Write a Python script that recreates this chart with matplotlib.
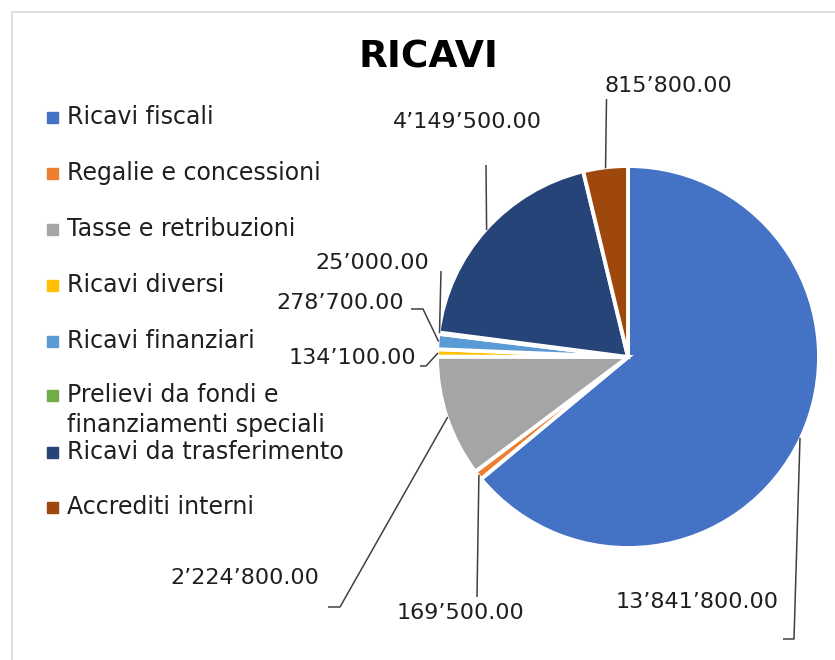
import numpy as np
import matplotlib.pyplot as plt
from matplotlib.patches import Rectangle

# data
categories = ['Ricavi fiscali', 'Regalie e concessioni', 'Tasse e retribuzioni',
              'Ricavi diversi', 'Ricavi finanziari',
              'Prelievi da fondi e\nfinanziamenti speciali',
              'Ricavi da trasferimento', 'Accrediti interni']
values = [13841800, 169500, 2224800, 134100, 278700, 25000, 4149500, 815800]
value_labels = ['13’841’800.00', '169’500.00', '2’224’800.00', '134’100.00',
                '278’700.00', '25’000.00', '4’149’500.00', '815’800.00']
colors = ['#4472C4', '#ED7D31', '#A5A5A5', '#FFC000',
          '#5B9BD5', '#70AD47', '#264478', '#9E480E']

W, H = 835, 660
TXT = '#1f1f1f'
plt.rcParams['font.family'] = ['DejaVu Sans']

fig = plt.figure(figsize=(W / 100, H / 100), dpi=100)
ax = fig.add_axes([0, 0, 1, 1])


def py(y):
    # pixel row (from top) -> data y
    return H - y


# chart border
ax.add_patch(Rectangle((12, py(700)), 900, 688, fill=False,
                       edgecolor='#D9D9D9', lw=1.2))

cx, cy, r = 628, 357, 191
wedges, _ = ax.pie(values, colors=colors, startangle=90, counterclock=False,
                   center=(cx, py(cy)), radius=r, frame=True,
                   wedgeprops=dict(edgecolor='white', linewidth=2.8))
ax.set_xlim(0, W)
ax.set_ylim(0, H)
ax.set_aspect('equal')
ax.axis('off')

ax.text(428, py(57), 'RICAVI', ha='center', va='center', fontsize=27,
        fontweight='bold', color='black')

# legend
leg_y = [117, 173, 229, 285, 341, 395, 452, 507]
for lab, col, y in zip(categories, colors, leg_y):
    ax.add_patch(Rectangle((47, py(y) - 5.5), 11, 11, color=col))
    lines = lab.split('\n')
    for k, line in enumerate(lines):
        ax.text(67, py(y + 30 * k), line, ha='left', va='center',
                fontsize=17, color=TXT)

# data labels: text centre and leader path (pixel coords, path ends on wedge)
label_pos = [(697, 602), (460, 613), (245, 578), (352, 358),
             (340, 303), (372, 263), (467, 122), (668, 86)]
leader_paths = [
    [(783, 639), (794, 639)],
    [(477, 597)],
    [(328, 607), (340, 607)],
    [(420, 366), (426, 366)],
    [(411, 309), (423, 309)],
    [(441, 271)],
    [(486, 165)],
    [(606.5, 99)],
]
for w, lab, pos, path in zip(wedges, value_labels, label_pos, leader_paths):
    ang = np.deg2rad((w.theta1 + w.theta2) / 2)
    ex = cx + (r - 1) * np.cos(ang)
    ey = py(cy) + (r - 1) * np.sin(ang)
    xs = [p[0] for p in path] + [ex]
    ys = [py(p[1]) for p in path] + [ey]
    ax.plot(xs, ys, color='#404040', lw=1.1, solid_capstyle='butt')
    ax.text(pos[0], py(pos[1]), lab, ha='center', va='center',
            fontsize=16, color=TXT)

fig.savefig('out.png', dpi=100)
